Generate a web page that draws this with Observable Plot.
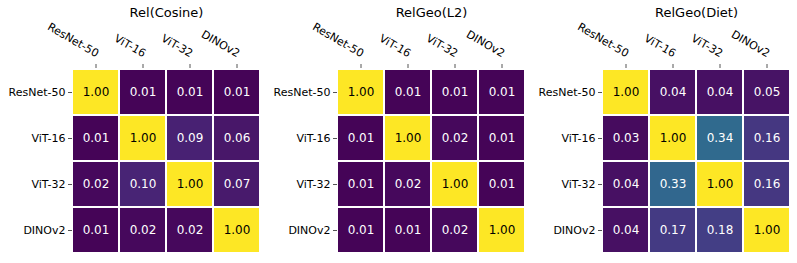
<!DOCTYPE html>
<html>
<head>
<meta charset="utf-8">
<script src="https://cdn.jsdelivr.net/npm/d3@7"></script>
<script src="https://cdn.jsdelivr.net/npm/@observablehq/plot@0.6"></script>
<style>
  html, body { margin: 0; padding: 0; background: #fff; }
  #wrap { display: flex; width: 797px; height: 263px; }
  svg { overflow: visible; }
</style>
</head>
<body>
<div id="wrap"></div>
<script>
const models = ["ResNet-50", "ViT-16", "ViT-32", "DINOv2"];
const titles = ["Rel(Cosine)", "RelGeo(L2)", "RelGeo(Diet)"];
const relCosine = [
  [1.00, 0.01, 0.01, 0.01],
  [0.01, 1.00, 0.09, 0.06],
  [0.02, 0.10, 1.00, 0.07],
  [0.01, 0.02, 0.02, 1.00]
];
const relGeoL2 = [
  [1.00, 0.01, 0.01, 0.01],
  [0.01, 1.00, 0.02, 0.01],
  [0.01, 0.02, 1.00, 0.01],
  [0.01, 0.01, 0.02, 1.00]
];
const relGeoDiet = [
  [1.00, 0.04, 0.04, 0.05],
  [0.03, 1.00, 0.34, 0.16],
  [0.04, 0.33, 1.00, 0.16],
  [0.04, 0.17, 0.18, 1.00]
];
const matrices = [relCosine, relGeoL2, relGeoDiet];

const wrap = document.getElementById("wrap");
matrices.forEach((m, k) => {
  const data = [];
  m.forEach((row, i) => row.forEach((v, j) => data.push({row: models[i], col: models[j], v})));
  const chart = Plot.plot({
    width: 265,
    height: 263,
    marginLeft: 72,
    marginRight: 5,
    marginTop: 67,
    marginBottom: 9,
    style: {fontFamily: "DejaVu Sans, sans-serif", fontSize: "11px", color: "#000", background: "#fff"},
    x: {domain: models, padding: 0, axis: null},
    y: {domain: models, padding: 0, axis: null},
    color: {type: "linear", scheme: "viridis", domain: [0, 1]},
    marks: [
      Plot.cell(data, {x: "col", y: "row", fill: "v", inset: 1}),
      Plot.text(data, {x: "col", y: "row", text: d => d.v.toFixed(2), fill: d => d.v > 0.5 ? "#000" : "#fff", fontSize: 12}),
      Plot.axisX({anchor: "top", tickSize: 4, tickFormat: () => "", stroke: "#555", label: null}),
      Plot.text(models, {x: d => d, frameAnchor: "top", dy: -10, rotate: 30, textAnchor: "end", lineAnchor: "bottom", fontSize: 11, fill: "#000"}),
      Plot.axisY({anchor: "left", tickSize: 4, tickPadding: 3, stroke: "#555", fontSize: 11, fill: "#000", label: null}),
      Plot.text([titles[k]], {frameAnchor: "top", lineAnchor: "middle", dy: -55, fontSize: 13, fill: "#000"})
    ]
  });
  wrap.appendChild(chart);
});
</script>
</body>
</html>
